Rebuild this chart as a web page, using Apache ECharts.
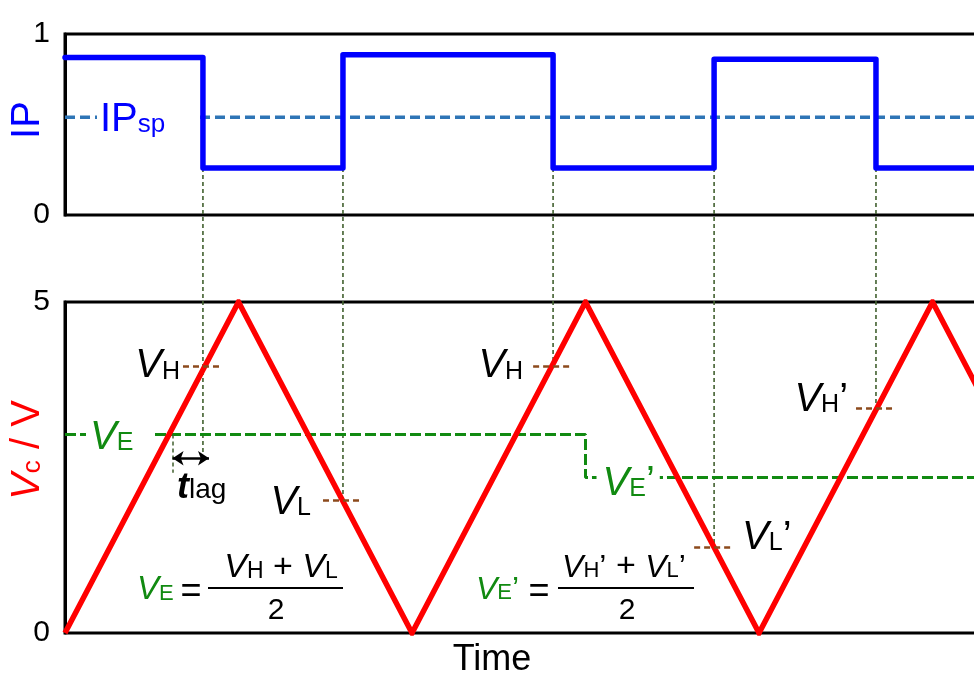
<!DOCTYPE html>
<html>
<head>
<meta charset="utf-8">
<script src="https://cdn.jsdelivr.net/npm/echarts@6/dist/echarts.min.js"></script>
<style>
  html, body { margin: 0; padding: 0; background: #fff; }
  #chart { width: 974px; height: 674px; }
</style>
</head>
<body>
<div id="chart"></div>
<script>
// Time is measured in half-periods of the triangular carrier.
const T_MAX = 5.262;

// Carrier voltage Vc (triangle wave) vertices
const vcTimes = [0, 1, 2, 3, 4, 5, 6];
const vcValues = [0, 5, 0, 5, 0, 5, 0];

// IP square wave: level at start, then the level after each switch
const ipSwitchTimes = [0.795, 1.602, 2.813, 3.741, 4.674];
const ipLevels = [0.87, 0.26, 0.885, 0.26, 0.86, 0.26];
const ipSetpoint = 0.54;

// Error voltage VE before and after the update at the peak
const veValues = [3.0, 2.35];
const veChangeTime = 3.0;

// Lag between the VE crossing and the first IP switch
const lagStartTime = 0.62;
const lagArrowLevel = 2.64;
const lagMarkBottom = 2.42;

// Vc sampled at each IP switch (VH, VL, VH, VL', VH')
const levelSubs = ['H', 'L', 'H', 'L', 'H'];
const levelPrimed = [false, false, false, true, true];
const levelValues = [4.03, 2.0, 4.03, 1.3, 3.4];

const FONT = '"Liberation Sans", Arial, Helvetica, sans-serif';
const GREEN = '#118a11';
const BLUE = '#0000ff';
const RED = '#ff0000';
const BROWN = '#8c4a1c';
const GUIDE = '#41602f';
const TICK_HALF = 0.115;
const PRIME = '\u2019';

function sym(size, subSize, color) {
  return {
    v: { fontFamily: FONT, fontStyle: 'italic', fontSize: size, lineHeight: size, color: color, fill: color, verticalAlign: 'bottom' },
    u: { fontFamily: FONT, fontSize: size, lineHeight: size, color: color, fill: color, verticalAlign: 'bottom' },
    s: { fontFamily: FONT, fontSize: subSize, lineHeight: subSize, color: color, fill: color, verticalAlign: 'bottom', padding: [0, 0, 2, 0] }
  };
}

// IP step data
const ipData = [[0, ipLevels[0]]];
ipSwitchTimes.forEach((t, i) => ipData.push([t, ipLevels[i + 1]]));
ipData.push([T_MAX, ipLevels[ipLevels.length - 1]]);

const vcData = vcTimes.map((t, i) => [t, vcValues[i]]);

// Short level marks at each switch, with their names
const labelSide = ['start', 'start', 'start', 'end', 'start'];
const labelGap = [3, 12, 10, 8, 8];
const labelShift = [0, 2, 0, -9, -8];
const levelMarks = ipSwitchTimes.map((t, i) => [
  {
    coord: [t - TICK_HALF, levelValues[i]],
    label: {
      show: true,
      position: labelSide[i],
      distance: labelGap[i],
      offset: [0, labelShift[i]],
      formatter: '{v|V}{s|' + levelSubs[i] + '}' + (levelPrimed[i] ? '{u|' + PRIME + '}' : ''),
      rich: sym(40, 25, '#000')
    }
  },
  { coord: [t + TICK_HALF, levelValues[i]] }
]);

const veData = [
  {
    value: [0, veValues[0]],
    label: {
      show: true, position: 'right', distance: 21, offset: [0, 3],
      backgroundColor: '#fff', padding: [0, 18, 0, 4],
      formatter: '{v|V}{s|E}', rich: sym(40, 25, GREEN)
    }
  },
  [veChangeTime, veValues[0]],
  {
    value: [veChangeTime, veValues[1]],
    label: {
      show: true, position: 'right', distance: 11, offset: [0, 6],
      backgroundColor: '#fff', padding: [0, 5, 0, 6],
      formatter: '{v|V}{s|E}{u|' + PRIME + '}', rich: sym(40, 25, GREEN)
    }
  },
  [T_MAX, veValues[1]]
];

const spData = [
  {
    value: [0, ipSetpoint],
    label: {
      show: true, position: 'right', distance: 32, offset: [0, 3],
      backgroundColor: '#fff', padding: [0, 33, 0, 3],
      formatter: '{u|IP}{s|sp}', rich: sym(40, 26, BLUE)
    }
  },
  [T_MAX, ipSetpoint]
];

const axisLine = { show: true, lineStyle: { color: '#000', width: 3 } };
const gridBase = {
  left: 65, right: -4, show: true, borderColor: '#000', borderWidth: 3,
  backgroundColor: 'transparent', containLabel: false, outerBoundsMode: 'none'
};

const option = {
  animation: false,
  backgroundColor: '#fff',
  grid: [
    Object.assign({ top: 34, height: 181 }, gridBase),
    Object.assign({ top: 302, height: 331 }, gridBase)
  ],
  xAxis: [
    { type: 'value', gridIndex: 0, min: 0, max: T_MAX, show: false },
    { type: 'value', gridIndex: 1, min: 0, max: T_MAX, show: false }
  ],
  yAxis: [
    {
      type: 'value', gridIndex: 0, min: 0, max: 1, interval: 1,
      axisLine: axisLine, axisTick: { show: false }, splitLine: { show: false },
      axisLabel: { color: '#000', fontSize: 30, fontFamily: FONT, margin: 15 },
      name: 'IP', nameLocation: 'middle', nameRotate: 90, nameGap: 17, nameMoveOverlap: false,
      nameTextStyle: { color: BLUE, fontSize: 40, fontFamily: FONT, padding: [0, 0, 0, 9] }
    },
    {
      type: 'value', gridIndex: 1, min: 0, max: 5, interval: 5,
      axisLine: axisLine, axisTick: { show: false }, splitLine: { show: false },
      axisLabel: { color: '#000', fontSize: 30, fontFamily: FONT, margin: 15 },
      name: '{v|V}{s|c}{u| / V}', nameLocation: 'middle', nameRotate: 90, nameGap: 17, nameMoveOverlap: false,
      nameTextStyle: { color: RED, fontSize: 40, fontFamily: FONT, padding: [0, 0, 0, 35], rich: sym(40, 26, RED) }
    }
  ],
  series: [
    {
      name: 'IP setpoint', type: 'line', xAxisIndex: 0, yAxisIndex: 0,
      data: spData, symbol: 'circle', symbolSize: 0, silent: true, z: 2,
      lineStyle: { color: '#2e75b6', width: 3.5, type: [10, 5] }
    },
    {
      name: 'IP', type: 'line', xAxisIndex: 0, yAxisIndex: 0, step: 'end',
      data: ipData, showSymbol: false, silent: true, z: 3,
      lineStyle: { color: BLUE, width: 5.5, join: 'round', cap: 'round' }
    },
    {
      name: 'VE', type: 'line', xAxisIndex: 1, yAxisIndex: 1,
      data: veData, symbol: 'circle', symbolSize: 0, silent: true, z: 2,
      lineStyle: { color: GREEN, width: 3, type: [11, 4] },
      markLine: {
        silent: true, symbol: 'none',
        data: [
          [
            { coord: [lagStartTime, veValues[0]], lineStyle: { color: GUIDE, width: 1.5, type: [4, 3] }, label: { show: false } },
            { coord: [lagStartTime, lagMarkBottom] }
          ],
          [
            { coord: [lagStartTime, lagArrowLevel], symbol: 'arrow', symbolSize: [11, 11], lineStyle: { color: '#000', width: 2.5, type: 'solid' }, label: { show: false } },
            { coord: [ipSwitchTimes[0] + 0.035, lagArrowLevel], symbol: 'arrow', symbolSize: [11, 11] }
          ]
        ]
      }
    },
    {
      name: 'Vc', type: 'line', xAxisIndex: 1, yAxisIndex: 1,
      data: vcData, showSymbol: false, silent: true, z: 4,
      lineStyle: { color: RED, width: 5.5, join: 'miter' },
      markLine: {
        silent: true, symbol: 'none',
        lineStyle: { color: BROWN, width: 2.5, type: [6, 4] },
        data: levelMarks
      }
    }
  ]
};

const chart = echarts.init(document.getElementById('chart'), null, { renderer: 'canvas' });
chart.setOption(option);

// Guides dropped from each IP switch down to the sampled carrier value
const guides = ipSwitchTimes.map((t, i) => {
  const low = Math.min(ipLevels[i], ipLevels[i + 1]);
  const p1 = chart.convertToPixel({ gridIndex: 0 }, [t, low]);
  const endV = i === 0 ? lagArrowLevel : levelValues[i];
  const p2 = chart.convertToPixel({ gridIndex: 1 }, [t, endV]);
  return {
    type: 'line', z: 1, silent: true,
    shape: { x1: p1[0], y1: p1[1], x2: p2[0], y2: p2[1] },
    style: { stroke: GUIDE, lineWidth: 1.6, lineDash: [4, 3] }
  };
});

function txt(x, y, text, rich, align) {
  return {
    type: 'text', z: 10, silent: true,
    style: {
      x: x, y: y, text: text, rich: rich,
      align: align || 'left', textAlign: align || 'left',
      verticalAlign: 'middle', textVerticalAlign: 'middle'
    }
  };
}
function rule(x1, x2, y) {
  return {
    type: 'line', z: 10, silent: true,
    shape: { x1: x1, y1: y, x2: x2, y2: y },
    style: { stroke: '#000', lineWidth: 2 }
  };
}

const plain = (size) => ({ p: { fontFamily: FONT, fontSize: size, color: '#000', fill: '#000' } });
const numRich = (size, subSize) => Object.assign(sym(size, subSize, '#000'), {
  o: { fontFamily: FONT, fontSize: 34, lineHeight: size, color: '#000', fill: '#000', verticalAlign: 'bottom' }
});
const lagRich = {
  t: { fontFamily: FONT, fontStyle: 'italic', fontWeight: 'bold', fontSize: 36, lineHeight: 36, color: '#000', fill: '#000', verticalAlign: 'bottom' },
  s: { fontFamily: FONT, fontSize: 28, lineHeight: 28, color: '#000', fill: '#000', verticalAlign: 'bottom', padding: [0, 0, 2, 0] }
};
const P = '{u|' + PRIME + '}';

const annotations = [
  // VE = (VH + VL) / 2
  txt(137, 590, '{v|V}{s|E}', sym(33, 22, GREEN)),
  txt(191, 592, '{p|=}', plain(36), 'center'),
  rule(208, 343, 588),
  txt(281, 568, '{v|V}{s|H}{o| + }{v|V}{s|L}', numRich(34, 23), 'center'),
  txt(276, 611, '{p|2}', plain(30), 'center'),
  // VE' = (VH' + VL') / 2
  txt(476, 590, '{v|V}{s|E}' + P, sym(32, 22, GREEN)),
  txt(539, 592, '{p|=}', plain(36), 'center'),
  rule(558, 694, 588),
  txt(624, 568, '{v|V}{s|H}' + P + '{o| + }{v|V}{s|L}' + P, numRich(32, 22), 'center'),
  txt(627, 611, '{p|2}', plain(30), 'center'),
  // lag time
  txt(177, 488, '{t|t}{s|lag}', lagRich),
  // time axis title
  txt(492, 660, '{p|Time}', plain(36), 'center')
];

chart.setOption({ graphic: guides.concat(annotations) });
</script>
</body>
</html>
